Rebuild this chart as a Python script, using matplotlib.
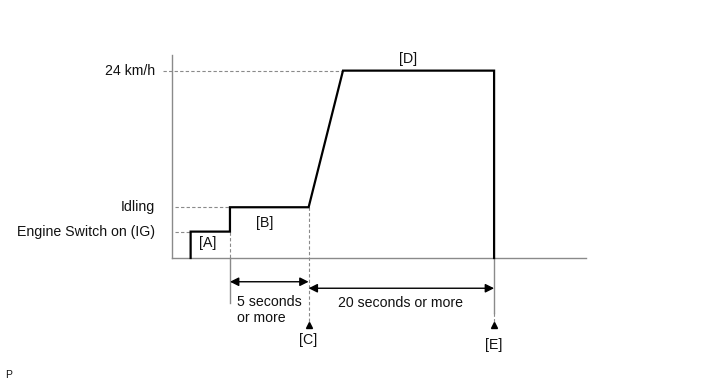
import matplotlib
matplotlib.use("Agg")
import matplotlib.pyplot as plt

plt.rcParams['font.family'] = ['Liberation Sans', 'DejaVu Sans']

# Schematic speed profile (x: time position, y: speed level, both in axis units 0..100)
profile_x = [4.5, 4.5, 14.0, 14.0, 33.0, 41.3, 77.8, 77.8]
profile_y = [0.0, 13.0, 13.0, 25.0, 25.0, 92.3, 92.3, 0.0]

# Speed levels shown on the vertical axis
level_names = ["Engine Switch on (IG)", "Idling", "24 km/h"]
level_values = [13.0, 25.0, 92.3]

# Phase labels and their positions
phase_names = ["[A]", "[B]", "[D]"]
phase_x = [8.5, 22.5, 57.0]
phase_y = [7.4, 17.2, 98.0]

# Time marks below the axis
t_step, t_c, t_e = 14.0, 33.0, 77.8
duration_labels = ["5 seconds\nor more", "20 seconds or more"]

XU, YU = 4.14, 2.03  # pixels per axis unit
W, H = 713, 381
OX, OY = 172, 258

fig = plt.figure(figsize=(W / 100, H / 100), dpi=100)
ax = fig.add_axes([0, 0, 1, 1])
ax.set_xlim(-OX / XU, (W - OX) / XU)
ax.set_ylim(-(H - OY) / YU, OY / YU)
ax.axis("off")

grey = "#8a8a8a"
fs = 10.2

# Axes lines
ax.plot([0, 100], [0, 0], color=grey, lw=1.0)
ax.plot([0, 0], [0, 100], color=grey, lw=1.0)

# Guide lines from levels to the profile
dash = dict(color=grey, lw=0.8, ls=(0, (3, 2)))
ax.plot([-2.2, profile_x[5]], [level_values[2]] * 2, **dash)
ax.plot([0.7, t_step], [level_values[1]] * 2, **dash)
ax.plot([0.7, profile_x[0]], [level_values[0]] * 2, **dash)
ax.plot([t_step, t_step], [level_values[0], 0], **dash)
ax.plot([t_c, t_c], [level_values[1], -33], **dash)
ax.plot([t_e, t_e], [-27, -33], **dash)
ax.plot([t_step, t_step], [0, -22], color=grey, lw=1.0)
ax.plot([t_e, t_e], [0, -27], color=grey, lw=1.0)

# Speed profile
ax.plot(profile_x, profile_y, color="black", lw=1.6, solid_joinstyle="miter")

# Level labels
for name, val in zip(level_names, level_values):
    ax.text(-4.1, val, name, ha="right", va="center", fontsize=fs, color="#111111")

for name, x, y in zip(phase_names, phase_x, phase_y):
    ax.text(x, y, name, ha="center", va="center", fontsize=fs, color="#111111")

# Duration arrows
arrow = dict(arrowstyle="<|-|>", color="black", lw=1.0, mutation_scale=13,
             shrinkA=0, shrinkB=0)
ax.annotate("", xy=(t_step, -11.7), xytext=(t_c, -11.7), arrowprops=arrow)
ax.annotate("", xy=(t_c, -14.9), xytext=(t_e, -14.9), arrowprops=arrow)
ax.text(15.7, -18.3, duration_labels[0], ha="left", va="top", fontsize=fs,
        color="#111111", linespacing=1.2)
ax.text(55.1, -22.2, duration_labels[1], ha="center", va="center", fontsize=fs,
        color="#111111")

# Event markers
ax.plot([t_c, t_e], [-33, -33], ls="none", marker="^", color="black", ms=4.5)
ax.text(t_c, -40.4, "[C]", ha="center", va="center", fontsize=fs, color="#111111")
ax.text(t_e, -42.9, "[E]", ha="center", va="center", fontsize=fs, color="#111111")

fig.text(5 / W, 1 - 375 / H, "P", ha="left", va="center", fontsize=7.5, color="#111111")

fig.savefig("out.png", dpi=100)
